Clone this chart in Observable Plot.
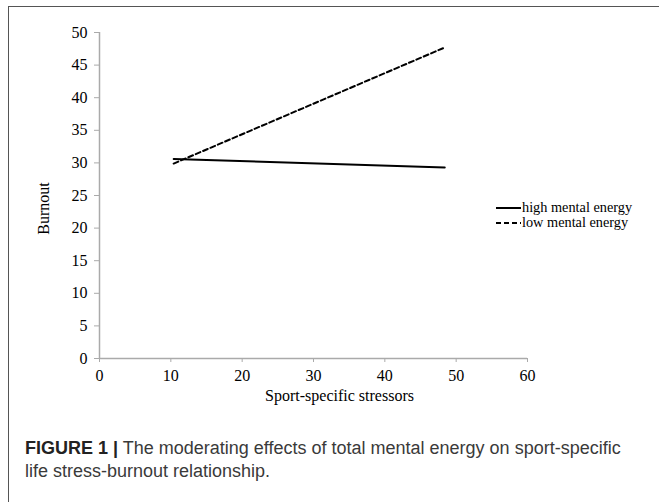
<!DOCTYPE html>
<html>
<head>
<meta charset="utf-8">
<script src="https://cdn.jsdelivr.net/npm/d3@7"></script>
<script src="https://cdn.jsdelivr.net/npm/@observablehq/plot@0.6"></script>
<style>
  html, body { margin: 0; padding: 0; background: #fff; }
  #wrap { position: relative; width: 659px; height: 502px; overflow: hidden; background: #fff; }
  #box { position: absolute; left: 8px; top: 6px; width: 660px; height: 520px; border: 1.5px solid #555; box-sizing: border-box; }
  #chart { position: absolute; left: 0; top: 0; }
  #legend { position: absolute; left: 496px; top: 200px; font-family: "Liberation Serif", "Times New Roman", serif; font-size: 14.3px; color: #000; line-height: 15px; }
  #legend .row { display: flex; align-items: center; height: 15px; white-space: nowrap; }
  #legend svg { display: block; margin-right: 1px; }
  #caption { position: absolute; left: 25px; top: 437px; width: 625px; font-family: "Liberation Sans", Arial, sans-serif; font-size: 18px; line-height: 23px; color: #3a3a3a; }
  #caption .ln { white-space: nowrap; height: 23px; }
  #caption b { color: #222; }
</style>
</head>
<body>
<div id="wrap">
  <div id="box"></div>
  <div id="chart"></div>
  <div id="legend"></div>
  <div id="caption">
    <div class="ln"><b>FIGURE 1 |</b><span> The moderating effects of total mental energy on sport-specific</span></div>
    <div class="ln"><span>life stress-burnout relationship.</span></div>
  </div>
</div>
<script>
const seriesNames = ["high mental energy", "low mental energy"];
const stressX = [10.4, 48.4];
const highBurnout = [30.6, 29.3];
const lowBurnout = [29.9, 47.7];
const xTicks = [0, 10, 20, 30, 40, 50, 60];
const yTicks = [0, 5, 10, 15, 20, 25, 30, 35, 40, 45, 50];
const xLabel = "Sport-specific stressors";
const yLabel = "Burnout";

const high = stressX.map((x, i) => ({x, y: highBurnout[i]}));
const low = stressX.map((x, i) => ({x, y: lowBurnout[i]}));

const serif = "Liberation Serif, Times New Roman, serif";
const plot = Plot.plot({
  width: 659,
  height: 410,
  marginLeft: 99,
  marginRight: 132,
  marginTop: 32,
  marginBottom: 52,
  style: {fontFamily: serif, fontSize: "16px", color: "#000", background: "transparent"},
  x: {domain: [0, 60]},
  y: {domain: [0, 50]},
  marks: [
    Plot.axisY({ticks: yTicks, tickSize: 5, tickPadding: 7, stroke: "#aaa", strokeOpacity: 1, fill: "#000", fontSize: 16, label: null}),
    Plot.axisX({ticks: xTicks, tickSize: 4, tickPadding: 7, stroke: "#aaa", strokeOpacity: 1, fill: "#000", fontSize: 16, label: null}),
    Plot.ruleY([0], {stroke: "#aaa", strokeWidth: 1.5}),
    Plot.ruleX([0], {stroke: "#aaa", strokeWidth: 1.5}),
    Plot.line(high, {x: "x", y: "y", stroke: "#000", strokeWidth: 2}),
    Plot.line(low, {x: "x", y: "y", stroke: "#000", strokeWidth: 2, strokeDasharray: "5,3"}),
    Plot.text([xLabel], {frameAnchor: "bottom", textAnchor: "middle", lineAnchor: "middle", dx: 26, dy: 37, fontSize: 16, fill: "#000"}),
    Plot.text([yLabel], {frameAnchor: "left", textAnchor: "middle", lineAnchor: "middle", rotate: -90, dx: -56, dy: 13, fontSize: 16, fill: "#000"})
  ]
});
document.getElementById("chart").appendChild(plot);

const legend = document.getElementById("legend");
seriesNames.forEach((name, i) => {
  const row = document.createElement("div");
  row.className = "row";
  const dash = i === 0 ? "" : ' stroke-dasharray="5,3"';
  row.innerHTML = `<svg width="25" height="4"><line x1="0" y1="2" x2="25" y2="2" stroke="#000" stroke-width="2"${dash}/></svg><span>${name}</span>`;
  legend.appendChild(row);
});
</script>
</body>
</html>
